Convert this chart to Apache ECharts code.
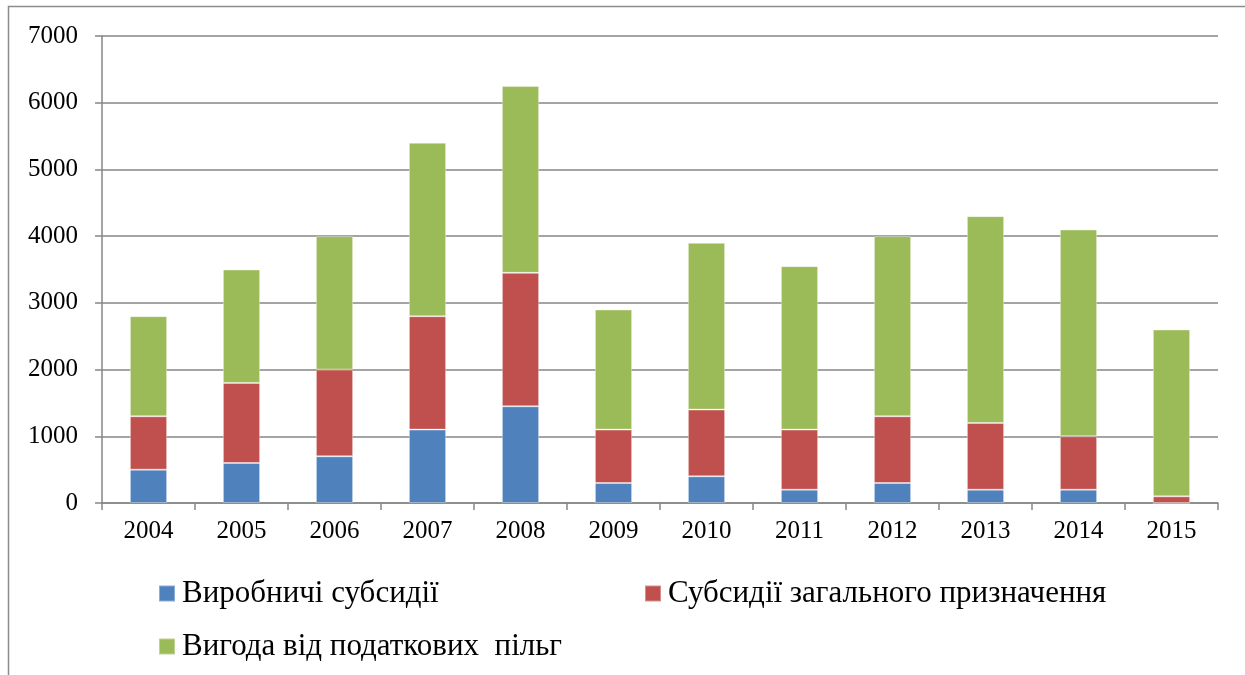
<!DOCTYPE html>
<html><head><meta charset="utf-8">
<script src="https://cdn.jsdelivr.net/npm/echarts@6/dist/echarts.min.js"></script>
<style>html,body{margin:0;padding:0;background:#fff}#c{width:1245px;height:675px}</style>
</head><body><div id="c"></div>
<script>
const categories = ['2004','2005','2006','2007','2008','2009','2010','2011','2012','2013','2014','2015'];
const seriesNames = ['Виробничі субсидії','Субсидії загального призначення','Вигода від податкових  пільг'];
const production = [500,600,700,1100,1450,300,400,200,300,200,200,0];
const general = [800,1200,1300,1700,2000,800,1000,900,1000,1000,800,100];
const taxBenefit = [1500,1700,2000,2600,2800,1800,2500,2450,2700,3100,3100,2500];
const colors = ['#4F81BD','#C0504D','#9BBB59'];
const font = '"Liberation Serif","Times New Roman",serif';
const chart = echarts.init(document.getElementById('c'));
const legendBase = {itemWidth:16,itemHeight:16,icon:'rect',itemGap:0,
  textStyle:{fontFamily:font,fontSize:31,color:'#000',padding:[2,0,0,2]}};
chart.setOption({
  animation:false,
  color:colors,
  graphic:[{type:'rect',shape:{x:8.5,y:6.5,width:1300,height:800},style:{fill:null,stroke:'#8c8c8c',lineWidth:1.5},silent:true}],
  grid:{left:102,right:27,top:36,bottom:172},
  legend:[
    Object.assign({},legendBase,{data:[seriesNames[0]],left:153,top:573}),
    Object.assign({},legendBase,{data:[seriesNames[1]],left:639,top:573}),
    Object.assign({},legendBase,{data:[seriesNames[2]],left:153,top:626})
  ],
  xAxis:{type:'category',data:categories,
    axisLine:{lineStyle:{color:'#868686',width:1.5}},
    axisTick:{show:true,length:7,alignWithLabel:false,lineStyle:{color:'#868686',width:1.5}},
    axisLabel:{fontFamily:font,fontSize:25,color:'#000',margin:16}},
  yAxis:{type:'value',min:0,max:7000,interval:1000,
    axisLine:{show:true,lineStyle:{color:'#868686',width:1.5}},
    axisTick:{show:true,length:7,lineStyle:{color:'#868686',width:1.5}},
    splitLine:{lineStyle:{color:'#868686',width:1.5}},
    axisLabel:{fontFamily:font,fontSize:25,color:'#000',margin:24,formatter:function(v){return String(v);}}},
  series:[
    {name:seriesNames[0],type:'bar',stack:'s',data:production,barWidth:'40%',itemStyle:{borderColor:'rgba(255,255,255,0.35)',borderWidth:1}},
    {name:seriesNames[1],type:'bar',stack:'s',data:general,barWidth:'40%',itemStyle:{borderColor:'rgba(255,255,255,0.35)',borderWidth:1}},
    {name:seriesNames[2],type:'bar',stack:'s',data:taxBenefit,barWidth:'40%',itemStyle:{borderColor:'rgba(255,255,255,0.35)',borderWidth:1}}
  ]
});
</script></body></html>
